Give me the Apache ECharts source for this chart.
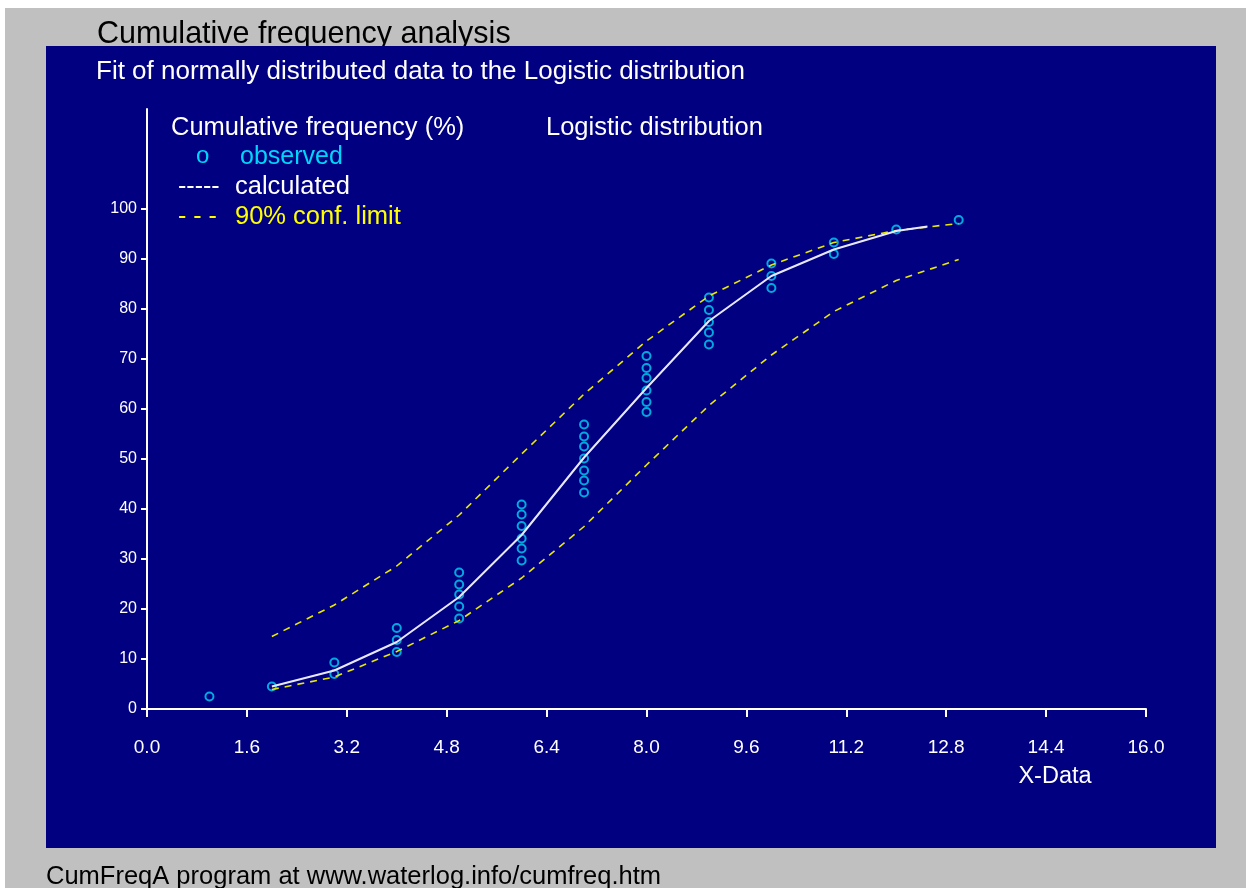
<!DOCTYPE html>
<html>
<head>
<meta charset="utf-8">
<script src="https://cdn.jsdelivr.net/npm/echarts@6/dist/echarts.min.js"></script>
<style>
  html, body { margin: 0; padding: 0; background: #ffffff; }
  #chart { width: 1246px; height: 888px; }
</style>
</head>
<body>
<div id="chart"></div>
<script>
// Observed cumulative frequencies (%) per x value
const obsX = [1, 2, 3, 3, 4, 4, 4, 5, 5, 5, 5, 5,
  6, 6, 6, 6, 6, 6, 7, 7, 7, 7, 7, 7, 7,
  8, 8, 8, 8, 8, 8, 9, 9, 9, 9, 9, 10, 10, 10, 11, 11, 12, 13];
const obsY = [2.5, 4.5, 7.0, 9.3, 11.4, 13.8, 16.2, 18.1, 20.5, 22.9, 24.9, 27.3,
  29.7, 32.1, 34.1, 36.6, 38.9, 40.9, 43.3, 45.7, 47.7, 50.1, 52.5, 54.5, 56.9,
  59.4, 61.4, 63.7, 66.2, 68.2, 70.6, 72.9, 75.3, 77.4, 79.8, 82.3,
  84.2, 86.6, 89.1, 91.0, 93.3, 95.9, 97.8];

// Fitted logistic curve
const calcX = [2, 3, 4, 5, 6, 7, 8, 9, 10, 11, 12, 12.5];
const calcY = [4.5, 7.7, 13.4, 22.4, 34.8, 50.3, 64.2, 77.6, 86.6, 91.9, 95.6, 96.5];

// 90% confidence limits
const limX = [2, 3, 4, 5, 6, 7, 8, 9, 10, 11, 12, 13];
const upperY = [14.5, 20.8, 28.6, 38.8, 51.0, 63.0, 73.6, 82.6, 88.8, 93.3, 95.7, 97.1];
const lowerY = [3.9, 6.4, 11.5, 17.7, 26.2, 36.5, 48.8, 60.7, 70.8, 79.5, 85.7, 89.9];

// Axis ticks
const xTicks = [0, 1.6, 3.2, 4.8, 6.4, 8.0, 9.6, 11.2, 12.8, 14.4, 16.0];
const yTicks = [0, 10, 20, 30, 40, 50, 60, 70, 80, 90, 100];

const NAVY = '#000080';
const CYAN = '#00d4f8';
const YELLOW = '#e8e800';
const FONT = '"Liberation Sans", Arial, sans-serif';

const pairs = (xs, ys) => xs.map((x, i) => [x, ys[i]]);

function txt(x, y, text, size, fill, z, align) {
  return {
    type: 'text', x: x, y: y, z: z === undefined ? 5 : z,
    style: {
      text: text, fill: fill, font: size + 'px ' + FONT,
      align: align || 'left', verticalAlign: 'middle'
    }
  };
}

const chart = echarts.init(document.getElementById('chart'), null, { renderer: 'canvas' });

chart.setOption({
  animation: false,
  backgroundColor: '#ffffff',
  graphic: [
    { type: 'rect', z: -30, shape: { x: 5, y: 8, width: 1241, height: 880 }, style: { fill: '#c0c0c0' } },
    // title sits behind the plot panel so its descenders are cut by the panel edge
    txt(97, 35, 'Cumulative frequency analysis', 30.5, '#000000', -20),
    { type: 'rect', z: -10, shape: { x: 46, y: 46, width: 1170, height: 802 }, style: { fill: NAVY } },
    txt(96, 72, 'Fit of normally distributed data to the Logistic distribution', 26, '#ffffff'),
    txt(171, 128, 'Cumulative frequency (%)', 25.5, '#ffffff'),
    txt(546, 128, 'Logistic distribution', 25.5, '#ffffff'),
    txt(196, 156, 'o', 24, CYAN),
    txt(240, 157, 'observed', 25, CYAN),
    txt(178, 187, '-----', 25, '#ffffff'),
    txt(235, 187, 'calculated', 25.5, '#ffffff'),
    txt(178, 217, '- - -', 25, '#ffff00'),
    txt(235, 217, '90% conf. limit', 25.5, '#ffff00'),
    txt(1055, 777, 'X-Data', 23.5, '#ffffff', 5, 'center'),
    txt(46, 877, 'CumFreqA program at www.waterlog.info/cumfreq.htm', 25.5, '#000000', 5)
  ],
  grid: { left: 147, right: 100, top: 109, bottom: 179, containLabel: false },
  xAxis: {
    type: 'value', min: 0, max: 16, interval: 1.6,
    axisLine: { lineStyle: { color: '#ffffff', width: 2 } },
    axisTick: { show: true, length: 8, lineStyle: { color: '#ffffff', width: 2 } },
    axisLabel: {
      color: '#ffffff', fontSize: 19, fontFamily: FONT, margin: 29,
      formatter: v => v.toFixed(1), customValues: xTicks
    },
    splitLine: { show: false }
  },
  yAxis: {
    type: 'value', min: 0, max: 120, interval: 10,
    axisLine: { show: true, lineStyle: { color: '#ffffff', width: 2 } },
    axisTick: { show: true, length: 6, lineStyle: { color: '#ffffff', width: 2 }, customValues: yTicks },
    axisLabel: { color: '#ffffff', fontSize: 16, fontFamily: FONT, margin: 10, customValues: yTicks },
    splitLine: { show: false }
  },
  series: [
    {
      name: 'observed', type: 'scatter', data: pairs(obsX, obsY),
      symbol: 'circle', symbolSize: 8,
      itemStyle: { color: 'transparent', borderColor: CYAN, borderWidth: 2 }
    },
    {
      name: 'upper', type: 'line', data: pairs(limX, upperY), showSymbol: false,
      lineStyle: { color: YELLOW, width: 1.6, type: [7, 6] }
    },
    {
      name: 'lower', type: 'line', data: pairs(limX, lowerY), showSymbol: false,
      lineStyle: { color: YELLOW, width: 1.6, type: [7, 6] }
    },
    {
      name: 'calculated', type: 'line', data: pairs(calcX, calcY), showSymbol: false,
      lineStyle: { color: '#e8e8ff', width: 2 }
    }
  ]
});
</script>
</body>
</html>
